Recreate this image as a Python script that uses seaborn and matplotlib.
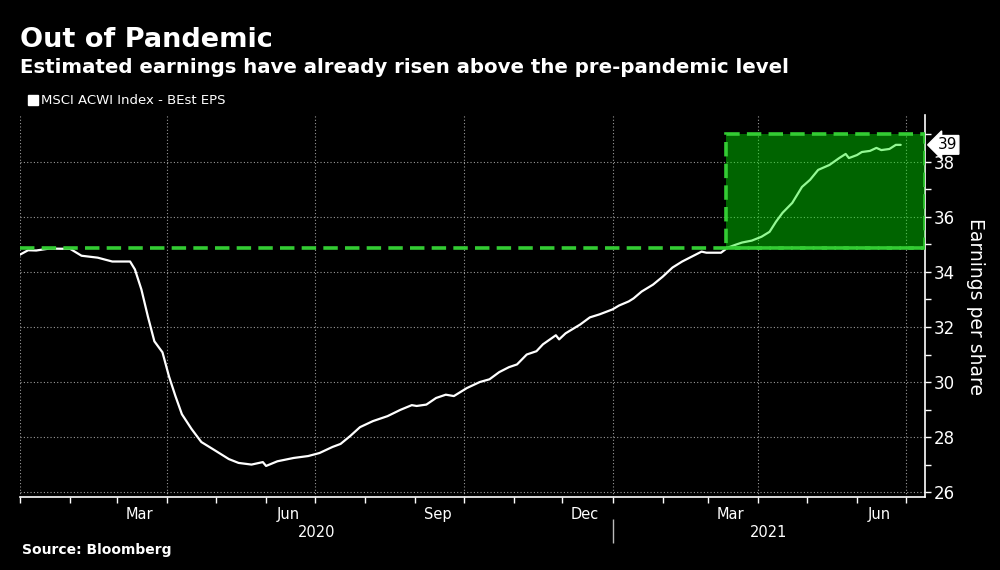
import pandas as pd
import numpy as np
import seaborn as sns
import matplotlib.pyplot as plt
import matplotlib.dates as mdates
from matplotlib.patches import Rectangle
from matplotlib.lines import Line2D
from matplotlib.ticker import FixedLocator, FixedFormatter, MultipleLocator, NullFormatter

# MSCI ACWI Index - BEst EPS
dates = [
    "2020-01-01", "2020-01-06", "2020-01-11", "2020-01-19", "2020-02-01", "2020-02-08",
    "2020-02-18", "2020-02-27", "2020-03-09", "2020-03-12", "2020-03-16", "2020-03-20",
    "2020-03-24", "2020-03-29", "2020-04-02", "2020-04-06", "2020-04-10", "2020-04-16",
    "2020-04-22", "2020-04-30", "2020-05-09", "2020-05-15", "2020-05-23", "2020-05-30",
    "2020-06-01", "2020-06-08", "2020-06-18", "2020-06-27", "2020-07-04", "2020-07-12",
    "2020-07-17", "2020-07-23", "2020-07-29", "2020-08-06", "2020-08-15", "2020-08-23",
    "2020-08-30", "2020-09-02", "2020-09-08", "2020-09-14", "2020-09-20", "2020-09-25",
    "2020-10-03", "2020-10-11", "2020-10-17", "2020-10-23", "2020-10-29", "2020-11-03",
    "2020-11-09", "2020-11-15", "2020-11-19", "2020-11-27", "2020-11-29", "2020-12-03",
    "2020-12-12", "2020-12-18", "2020-12-24", "2021-01-01", "2021-01-05", "2021-01-11",
    "2021-01-14", "2021-01-19", "2021-01-26", "2021-02-01", "2021-02-07", "2021-02-13",
    "2021-02-19", "2021-02-25", "2021-02-28", "2021-03-09", "2021-03-13", "2021-03-18",
    "2021-03-22", "2021-03-28", "2021-04-03", "2021-04-08", "2021-04-12", "2021-04-16",
    "2021-04-22", "2021-04-25", "2021-04-28", "2021-05-03", "2021-05-08", "2021-05-15",
    "2021-05-21", "2021-05-25", "2021-05-27", "2021-06-01", "2021-06-04", "2021-06-09",
    "2021-06-13", "2021-06-16", "2021-06-21", "2021-06-25", "2021-06-28",
]
eps = [
    34.63, 34.79, 34.78, 34.85, 34.84, 34.59,
    34.52, 34.38, 34.38, 34.09, 33.36, 32.38,
    31.48, 31.08, 30.21, 29.49, 28.83, 28.29,
    27.82, 27.53, 27.20, 27.06, 27.00, 27.09,
    26.95, 27.12, 27.24, 27.31, 27.42, 27.64,
    27.75, 28.04, 28.36, 28.58, 28.76, 28.99,
    29.16, 29.13, 29.18, 29.42, 29.54, 29.49,
    29.78, 30.00, 30.10, 30.36, 30.54, 30.64,
    31.00, 31.12, 31.37, 31.70, 31.55, 31.77,
    32.09, 32.35, 32.46, 32.64, 32.78, 32.93,
    33.04, 33.29, 33.54, 33.83, 34.16, 34.38,
    34.56, 34.74, 34.70, 34.70, 34.88, 34.99,
    35.07, 35.14, 35.28, 35.46, 35.83, 36.15,
    36.51, 36.80, 37.09, 37.35, 37.71, 37.89,
    38.14, 38.29, 38.14, 38.25, 38.36, 38.40,
    38.51, 38.43, 38.47, 38.62, 38.62,
]

pre_pandemic_level = 34.88
box_start = "2021-03-12"
box_top = 39.0
x_start = "2020-01-01"
x_end = "2021-07-13"

df = pd.DataFrame({"date": pd.to_datetime(dates), "eps": eps})

sns.set_theme(style="dark", rc={
    "figure.facecolor": "black",
    "axes.facecolor": "black",
    "savefig.facecolor": "black",
    "text.color": "white",
    "axes.labelcolor": "white",
    "xtick.color": "white",
    "ytick.color": "white",
})
plt.rcParams["font.family"] = ["DejaVu Sans"]

fig = plt.figure(figsize=(10, 5.7), dpi=100)
ax = fig.add_axes([0.02, 0.128, 0.905, 0.67])

sns.lineplot(data=df, x="date", y="eps", color="white", linewidth=1.6, ax=ax, zorder=3)

x0, x1 = pd.Timestamp(x_start), pd.Timestamp(x_end)
ax.set_xlim(x0, x1)
ax.set_ylim(25.82, 39.7)

# pre-pandemic level and the green "above" box
ax.axhline(pre_pandemic_level, color="#33cc33", linewidth=2.6, linestyle=(0, (4, 2)), zorder=5)
bx = mdates.date2num(pd.Timestamp(box_start))
bw = mdates.date2num(x1) - bx
ax.add_patch(Rectangle((bx, pre_pandemic_level), bw, box_top - pre_pandemic_level,
                       facecolor="#00f000", alpha=0.42, edgecolor="none", zorder=4))
ax.add_patch(Rectangle((bx, pre_pandemic_level), bw, box_top - pre_pandemic_level,
                       facecolor="none", edgecolor="#33cc33", linewidth=2.6,
                       linestyle=(0, (4, 2)), zorder=5))

# spines
for s in ["top", "left"]:
    ax.spines[s].set_visible(False)
for s in ["right", "bottom"]:
    ax.spines[s].set_color("white")
    ax.spines[s].set_linewidth(1.2)

# y axis on the right
ax.yaxis.tick_right()
ax.yaxis.set_label_position("right")
ax.yaxis.set_major_locator(MultipleLocator(2))
ax.yaxis.set_minor_locator(MultipleLocator(1))
ax.tick_params(axis="y", which="both", direction="out", length=4, width=1, labelsize=12, pad=2, right=True)
ax.set_ylabel("Earnings per share", fontsize=13.5, rotation=-90, labelpad=22)

# x axis: gridlines at quarter starts, ticks at every month
ax.xaxis.set_major_locator(mdates.MonthLocator(bymonth=(1, 4, 7, 10)))
ax.xaxis.set_minor_locator(mdates.MonthLocator())
ax.xaxis.set_major_formatter(NullFormatter())
ax.tick_params(axis="x", which="both", direction="out", length=4, width=1, bottom=True)
ax.set_xlabel("")

ax.grid(True, which="major", color="#9a9a9a", linestyle=(0, (1, 2)), linewidth=0.8)
ax.set_axisbelow(True)

# month labels at mid-month
mon = ax.secondary_xaxis("bottom")
mon.xaxis.set_major_locator(mdates.MonthLocator(bymonth=(3, 6, 9, 12), bymonthday=15))
mon.xaxis.set_major_formatter(mdates.DateFormatter("%b"))
mon.tick_params(length=0, labelsize=10.5, pad=7, colors="white")
mon.spines["bottom"].set_visible(False)

# year labels centred on the visible part of each year, separator between years
year_list = list(range(x0.year, x1.year + 1))
seg_start = [max(x0, pd.Timestamp(f"{y}-01-01")) for y in year_list]
seg_end = [min(x1, pd.Timestamp(f"{y + 1}-01-01")) for y in year_list]
mids = [(mdates.date2num(a) + mdates.date2num(b)) / 2 for a, b in zip(seg_start, seg_end)]
breaks = [mdates.date2num(pd.Timestamp(f"{y}-01-01")) for y in year_list[1:]]

yr = ax.secondary_xaxis(-0.058)
yr.xaxis.set_major_locator(FixedLocator(mids))
yr.xaxis.set_major_formatter(FixedFormatter([str(y) for y in year_list]))
yr.xaxis.set_minor_locator(FixedLocator(breaks))
yr.tick_params(which="major", length=0, labelsize=10.5, pad=4, colors="white")
yr.tick_params(which="minor", length=17, width=1, direction="out", color="#bbbbbb")
yr.spines["bottom"].set_visible(False)

# last value tag
last = df["eps"].iloc[-1]
ax.annotate(f"{last:.0f}", xy=(1.0, last), xycoords=("axes fraction", "data"),
            xytext=(9, 0), textcoords="offset points", ha="left", va="center",
            fontsize=11, color="black",
            bbox=dict(boxstyle="larrow,pad=0.12", fc="white", ec="white"),
            annotation_clip=False)

# legend
handle = Line2D([], [], marker="s", color="white", linestyle="none", markersize=7)
leg = ax.legend([handle], ["MSCI ACWI Index - BEst EPS"], loc="lower left",
                bbox_to_anchor=(-0.003, 1.0), frameon=False, fontsize=9.5,
                handletextpad=0.0, handlelength=1.2, borderaxespad=0.2)
for t in leg.get_texts():
    t.set_color("white")

fig.text(0.02, 0.93, "Out of Pandemic", fontsize=19.5, fontweight="bold", color="white", va="center")
fig.text(0.02, 0.881, "Estimated earnings have already risen above the pre-pandemic level",
         fontsize=14.2, fontweight="bold", color="white", va="center")
fig.text(0.022, 0.035, "Source: Bloomberg", fontsize=10, fontweight="bold", color="white", va="center")

fig.savefig("out.png", dpi=100)
